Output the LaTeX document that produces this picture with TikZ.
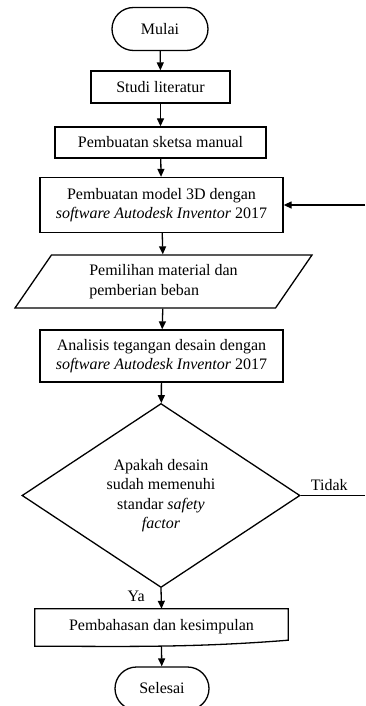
\documentclass[tikz,border=0pt]{standalone}
\usepackage{fontspec}
\setmainfont{Liberation Serif}
\usetikzlibrary{positioning,calc,arrows.meta,shapes.geometric,shapes.misc}
\tikzset{
  line/.style={line width=1.3pt},
  terminal/.style={rounded rectangle,draw,line width=1.3pt,minimum width=96pt,minimum height=43pt,inner sep=0},
  process/.style={rectangle,draw,line width=1.3pt,inner sep=0,align=center},
  % input/output: a parallelogram leaning to the right
  io/.style={trapezium,trapezium left angle=43,trapezium right angle=137,trapezium stretches body,draw,line width=1.3pt,
             minimum width=297pt,minimum height=53pt,inner sep=0,align=left},
  decision/.style={diamond,draw,line width=1.3pt,minimum width=278pt,minimum height=184pt,inner sep=0,align=center},
  % document box, its wavy bottom is drawn by hand
  doc/.style={rectangle,inner sep=0,minimum width=253pt,minimum height=35pt},
  arrow/.style={-{Triangle[length=8pt,width=7pt]},line width=1.3pt},
}

\begin{document}
\begin{tikzpicture}[x=1pt,y=1pt,font=\fontsize{16}{19.5}\selectfont]
  \useasboundingbox (0,0) rectangle (365,-706);
  \node[terminal] (mulai) at (160,-29) {Mulai};
  \node[process,minimum width=139pt,minimum height=32pt] (studi) at (160.5,-87) {Studi literatur};
  \node[process,minimum width=211pt,minimum height=31pt] (sketsa) at (160.5,-142.5) {Pembuatan sketsa manual};
  \node[process,minimum width=243pt,minimum height=55pt] (model) at (161.5,-205)
    {Pembuatan model 3D dengan\\ \textit{software Autodesk Inventor} 2017};
  \node[io] (material) at (163.5,-281.5) {Pemilihan material dan\\ pemberian beban};
  \node[process,minimum width=243pt,minimum height=52pt] (analisis) at (161.5,-356)
    {Analisis tegangan desain dengan\\ \textit{software Autodesk Inventor} 2017};
  \node[decision] (cek) at (161,-495.5)
    {Apakah desain\\ sudah memenuhi\\ standar \textit{safety}\\ \textit{factor}};
  \node[doc] (bahas) at (161.5,-626.5) {Pembahasan dan kesimpulan};
  \draw[line] (bahas.north west) -- (bahas.north east) -- ($(bahas.south east)+(0,4)$)
    .. controls +(-100,-8) and +(80,0) .. ($(bahas.south west)+(0,-2)$) -- cycle;
  \node[terminal,minimum width=94pt] (selesai) at (162,-688.5) {Selesai};

  \coordinate (balik) at (365,-205);
  \coordinate (tidakend) at (365,-495.5);

  \draw[arrow] (mulai) -- (studi);
  \draw[arrow] (studi) -- (sketsa);
  \draw[arrow] (sketsa) -- (model);
  \draw[arrow] (model) -- (material);
  \draw[arrow] (material) -- (analisis);
  \draw[arrow] (analisis) -- (cek);
  \draw[arrow] (cek.south) -- (bahas.north);
  \draw[arrow] ($(bahas.south)+(0,-3)$) -- (selesai);
  \draw[line] (cek.east) -- (tidakend);
  \draw[arrow] (balik) -- (model.east);

  \node[anchor=base west,inner sep=0] (tidak) at ($(cek.east)+(10,5)$) {Tidak};
  \node[anchor=base east,inner sep=0] (ya) at ($(cek.south)+(-16,-13)$) {Ya};
\end{tikzpicture}
\end{document}
